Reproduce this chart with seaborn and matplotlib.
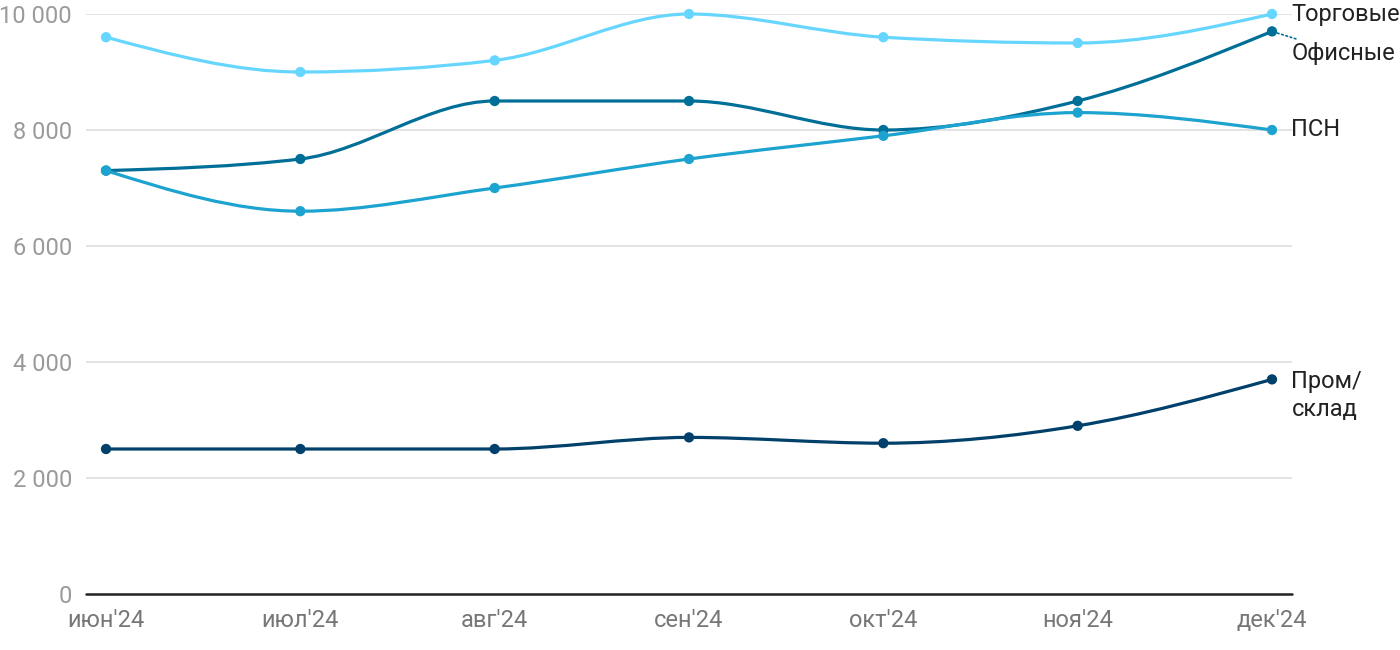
import numpy as np
import pandas as pd
import matplotlib
matplotlib.use('Agg')
import matplotlib.pyplot as plt
from matplotlib.path import Path
from matplotlib.patches import PathPatch
import seaborn as sns

months = ["июн'24", "июл'24", "авг'24", "сен'24", "окт'24", "ноя'24", "дек'24"]
torg = [9600, 9000, 9200, 10000, 9600, 9500, 10000]
ofis = [7300, 7500, 8500, 8500, 8000, 8500, 9700]
psn = [7300, 6600, 7000, 7500, 7900, 8300, 8000]
prom = [2500, 2500, 2500, 2700, 2600, 2900, 3700]

series = ['Торговые', 'Офисные', 'ПСН', 'Пром/\nсклад']
colors = {'Торговые': '#66d6ff', 'Офисные': '#006f97', 'ПСН': '#1ca3cf', 'Пром/\nсклад': '#00406a'}
values = {'Торговые': torg, 'Офисные': ofis, 'ПСН': psn, 'Пром/\nсклад': prom}

rows = []
for name in series:
    for i, v in enumerate(values[name]):
        rows.append({'x': i, 'value': v, 'series': name})
df = pd.DataFrame(rows)


def monotone_path(xs, ys):
    # d3 curveMonotoneX as cubic bezier segments
    xs = np.asarray(xs, float)
    ys = np.asarray(ys, float)
    n = len(xs)
    h = np.diff(xs)
    s = np.diff(ys) / h
    t = np.zeros(n)
    for i in range(1, n - 1):
        p = (s[i - 1] * h[i] + s[i] * h[i - 1]) / (h[i - 1] + h[i])
        t[i] = (np.sign(s[i - 1]) + np.sign(s[i])) * min(abs(s[i - 1]), abs(s[i]), 0.5 * abs(p))
    t[0] = (3 * s[0] - t[1]) / 2
    t[-1] = (3 * s[-1] - t[-2]) / 2
    verts = [(xs[0], ys[0])]
    codes = [Path.MOVETO]
    for i in range(n - 1):
        dx = h[i] / 3
        verts += [(xs[i] + dx, ys[i] + dx * t[i]),
                  (xs[i + 1] - dx, ys[i + 1] - dx * t[i + 1]),
                  (xs[i + 1], ys[i + 1])]
        codes += [Path.CURVE4] * 3
    return Path(verts, codes)


sns.set_theme(style='white')
plt.rcParams['font.family'] = ['Roboto', 'DejaVu Sans']

fig = plt.figure(figsize=(14, 6.5), dpi=100)
ax = fig.add_axes([86 / 1400, 1 - 594 / 650, (1292 - 86) / 1400, (594 - 14) / 650])

for name in series:
    xs = np.arange(len(months))
    patch = PathPatch(monotone_path(xs, values[name]), facecolor='none',
                      edgecolor=colors[name], lw=2.3, zorder=3, clip_on=False)
    ax.add_patch(patch)

sns.scatterplot(data=df, x='x', y='value', hue='series', palette=colors,
                s=55, edgecolor='none', legend=False, ax=ax, zorder=4, clip_on=False)

ax.set_xlim(-0.103, 6.103)
ax.set_ylim(0, 10000)
ax.set_yticks([0, 2000, 4000, 6000, 8000, 10000])
ax.set_yticklabels(['0', '2 000', '4 000', '6 000', '8 000', '10 000'])
ax.set_xticks(range(len(months)))
ax.set_xticklabels(months)
ax.set_xlabel('')
ax.set_ylabel('')
for y in [2000, 4000, 6000, 8000, 10000]:
    ax.axhline(y, color='#e0e0e0', lw=1.3, zorder=1)
ax.axhline(0, color='#222222', lw=1.8, zorder=2, clip_on=False)
for sp in ax.spines.values():
    sp.set_visible(False)
ax.tick_params(axis='y', length=0, pad=10, labelsize=17, labelcolor='#9a9a9a')
ax.tick_params(axis='x', length=0, pad=11, labelsize=17, labelcolor='#777777')

# labels on the right
lab = dict(textcoords='offset points', ha='left', fontsize=17, color='#222222')
ax.annotate('Торговые', xy=(6, torg[-1]), xytext=(14, 0), va='center', **lab)
ax.annotate('Офисные', xy=(6, ofis[-1]), xytext=(14, -16), va='center',
            arrowprops=dict(arrowstyle='-', linestyle=':', color=colors['Офисные'], lw=1.2,
                            shrinkA=0, shrinkB=4), **lab)
ax.annotate('ПСН', xy=(6, psn[-1]), xytext=(14, 0), va='center', **lab)
ax.annotate('Пром/\nсклад', xy=(6, prom[-1]), xytext=(14, 7), va='top',
            linespacing=1.27, **lab)

fig.savefig('out.png', dpi=100)
